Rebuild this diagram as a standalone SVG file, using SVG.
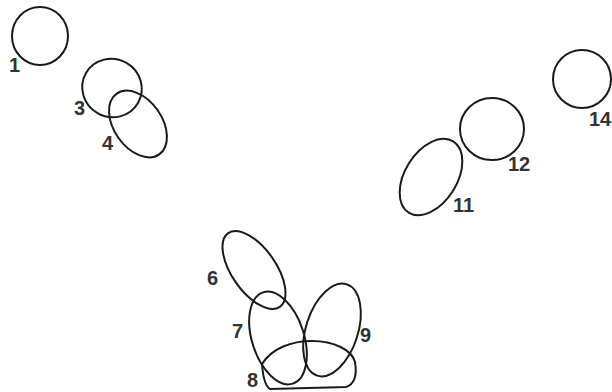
<svg xmlns="http://www.w3.org/2000/svg" width="612" height="392" viewBox="0 0 612 392">
<style>
.s{fill:none;stroke:#1a1a1a;stroke-width:2;stroke-linejoin:round}
.t{font-family:"Liberation Sans",Arial,sans-serif;font-size:20px;font-weight:bold;fill:#333}
</style>
<rect width="612" height="392" fill="#fff"/>
<g id="connectors"></g>
<g id="n1"><ellipse class="s" cx="40" cy="36" rx="28" ry="29"/><text class="t" x="9" y="72">1</text></g>
<g id="n3"><ellipse class="s" cx="112" cy="88" rx="30" ry="29" transform="rotate(30 112 88)"/><text class="t" x="74" y="115">3</text></g>
<g id="n4"><ellipse class="s" cx="138" cy="124" rx="37" ry="24" transform="rotate(55 138 124)"/><text class="t" x="102" y="150">4</text></g>
<g id="n6"><ellipse class="s" cx="254" cy="270" rx="45" ry="22" transform="rotate(55 254 270)"/><text class="t" x="207" y="285">6</text></g>
<g id="n7"><ellipse class="s" cx="278" cy="338" rx="26" ry="48" transform="rotate(-18 278 338)"/><text class="t" x="232" y="338">7</text></g>
<g id="n8"><path class="s" d="M262,364 C272,348 292,341 312,341 C334,341 352,350 355,362 C357,374 355,384 346,387 L270,389 C265,386 263,378 262,364 Z"/><text class="t" x="247" y="387">8</text></g>
<g id="n9"><ellipse class="s" cx="332" cy="330" rx="26" ry="48" transform="rotate(18 332 330)"/><text class="t" x="360" y="342">9</text></g>
<g id="n11"><ellipse class="s" cx="431" cy="177" rx="42" ry="26" transform="rotate(-58 431 177)"/><text class="t" x="453" y="212">11</text></g>
<g id="n12"><ellipse class="s" cx="492" cy="129" rx="32" ry="31"/><text class="t" x="508" y="171">12</text></g>
<g id="n14"><ellipse class="s" cx="582" cy="79" rx="29" ry="29"/><text class="t" x="589" y="126">14</text></g>
</svg>
